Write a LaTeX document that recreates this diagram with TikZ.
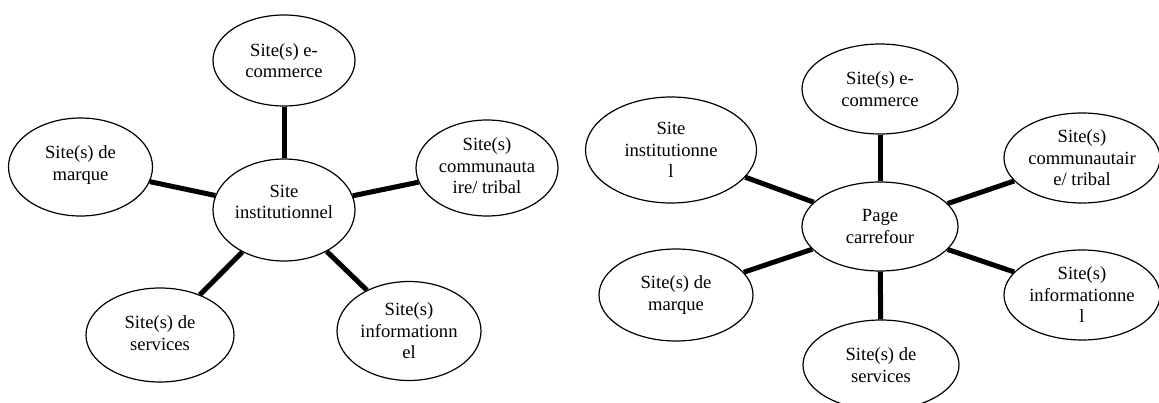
\documentclass[tikz,border=0pt]{standalone}
\usepackage{fontspec}
\setmainfont{Liberation Serif}
\usetikzlibrary{shapes.geometric}
\definecolor{bulleFg}{RGB}{0,0,0}
\tikzset{
  site/.style={ellipse, draw=bulleFg, line width=1.2pt, fill=white, inner sep=0pt},
  sitetxt/.style={align=center, inner sep=0pt, text=bulleFg,
    font=\fontsize{18.6}{21.5}\selectfont},
  lien/.style={draw=bulleFg, line width=5pt},
}

\begin{document}
\begin{tikzpicture}[x=1pt, y=-1pt]
  \clip (0,0) rectangle (1159,403);
  \fill[white] (0,0) rectangle (1159,403);

  % schema 1 : site institutionnel au centre
  \node[site, minimum width=142pt, minimum height=102pt,
        label={[sitetxt, yshift=8pt]center:{Site\\institutionnel}}] (instA) at (284,210) {};
  \node[site, minimum width=142pt, minimum height=91pt,
        label={[sitetxt]center:{Site(s) e-\\commerce}}] (ecomA) at (284,60.5) {};
  \node[site, minimum width=144pt, minimum height=98pt,
        label={[sitetxt, yshift=2pt]center:{Site(s) de\\marque}}] (marqA) at (80.5,167) {};
  \node[site, minimum width=142pt, minimum height=96pt,
        label={[sitetxt, yshift=2pt]center:{Site(s)\\communauta\\ire/ tribal}}] (commA) at (487,168) {};
  \node[site, minimum width=148pt, minimum height=94pt,
        label={[sitetxt, yshift=2pt]center:{Site(s) de\\services}}] (servA) at (160,335) {};
  \node[site, minimum width=144pt, minimum height=99pt,
        label={[sitetxt]center:{Site(s)\\informationn\\el}}] (infoA) at (409,331) {};

  \foreach \s in {ecomA,marqA,commA,servA,infoA}
    \draw[lien] (instA) -- (\s);

  % schema 2 : page carrefour au centre
  \node[site, minimum width=156pt, minimum height=89pt,
        label={[sitetxt]center:{Page\\carrefour}}] (pageB) at (880,226.5) {};
  \node[site, minimum width=156pt, minimum height=90pt,
        label={[sitetxt]center:{Site(s) e-\\commerce}}] (ecomB) at (880,89) {};
  \node[site, minimum width=171pt, minimum height=106pt,
        label={[sitetxt]center:{Site\\institutionne\\l}}] (instB) at (671,150) {};
  \node[site, minimum width=156pt, minimum height=90pt,
        label={[sitetxt]center:{Site(s)\\communautair\\e/ tribal}}] (commB) at (1082,158) {};
  \node[site, minimum width=154pt, minimum height=92pt,
        label={[sitetxt]center:{Site(s) de\\marque}}] (marqB) at (676,295) {};
  \node[site, minimum width=156pt, minimum height=90pt,
        label={[sitetxt]center:{Site(s)\\informationne\\l}}] (infoB) at (1082,295) {};
  \node[site, minimum width=156pt, minimum height=90pt,
        label={[sitetxt]center:{Site(s) de\\services}}] (servB) at (881,365) {};

  \foreach \s in {ecomB,instB,commB,marqB,infoB,servB}
    \draw[lien] (pageB) -- (\s);
\end{tikzpicture}
\end{document}
